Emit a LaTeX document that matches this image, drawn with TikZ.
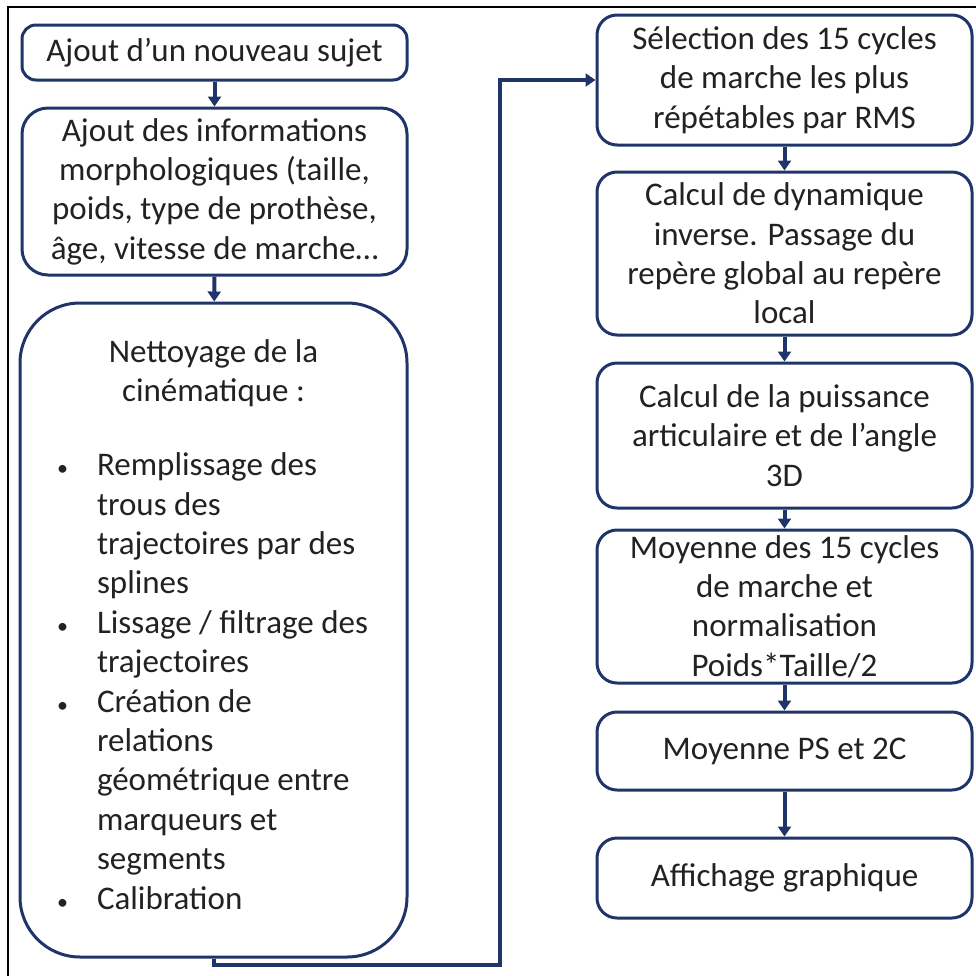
\documentclass[tikz,border=0pt]{standalone}
\usepackage{fontspec}
\setmainfont{Carlito}
\usepackage{xcolor}
\usepackage{tikz}
\usetikzlibrary{positioning,calc,arrows.meta}

\definecolor{navy}{RGB}{31,52,104}
\definecolor{txt}{RGB}{34,34,34}

\newcommand{\puce}{{\fontsize{11}{19.7}\selectfont •}}

\begin{document}
\begin{tikzpicture}[x=0.5pt, y=-0.5pt,
	every node/.style={font=\fontsize{16.5}{19.7}\selectfont, text=txt},
	stepbox/.style={draw=navy, line width=1.5pt, rounded corners=10pt, fill=white,
		align=center, inner sep=0pt, minimum width=187.5pt},
	leftbox/.style={stepbox, minimum width=192.5pt},
	arr/.style={draw=navy, line width=2pt, -{Triangle[width=6.5pt,length=5pt]}},
	frame/.style={draw=black, line width=1pt}
	]

	\useasboundingbox (0,0) rectangle (976,976);
	\draw[frame] (8,976) -- (8,7) -- (976,7);

	% colonne de gauche
	\node[leftbox, rounded corners=7pt, minimum height=27.5pt] (sujet) at (214.5,52.5)
		{Ajout d’un nouveau sujet};
	\node[leftbox, rounded corners=13pt, minimum height=83.5pt] (morpho) at (214.5,191.5)
		{Ajout des informations\\morphologiques (taille,\\poids, type de prothèse,\\âge, vitesse de marche…};
	\node[leftbox, rounded corners=30pt, minimum width=193.5pt, minimum height=327pt] (nett) at (213.5,630)
		{Nettoyage de la\\cinématique :\\[19.7pt]
		\hspace*{-1pt}\begin{tabular}{@{}p{20pt}@{}l@{}}
			\puce & Remplissage des\\
			  & trous des\\
			  & trajectoires par des\\
			  & splines\\
			\puce & Lissage / filtrage des\\
			  & trajectoires\\
			\puce & Création de\\
			  & relations\\
			  & géométrique entre\\
			  & marqueurs et\\
			  & segments\\
			\puce & Calibration
		\end{tabular}};

	% colonne de droite
	\node[stepbox, minimum height=65pt] (select) at (784.5,80)
		{Sélection des 15 cycles\\de marche les plus\\répétables par RMS};
	\node[stepbox, minimum height=81.5pt] (dyn) at (784.5,253.5)
		{Calcul de dynamique\\inverse. Passage du\\repère global au repère\\local};
	\node[stepbox, minimum height=72.5pt] (puiss) at (784.5,435.5)
		{Calcul de la puissance\\articulaire et de l’angle\\3D};
	\node[stepbox, minimum height=76.5pt] (moy) at (784.5,606.5)
		{Moyenne des 15 cycles\\de marche et\\normalisation\\Poids*Taille/2};
	\node[stepbox, minimum height=39pt] (ps) at (784.5,751)
		{Moyenne PS et 2C};
	\node[stepbox, minimum height=40pt] (graph) at (784.5,878)
		{Affichage graphique};

	\coordinate (bas) at (500,965);

	\draw[arr] (sujet) -- (morpho);
	\draw[arr] (morpho) -- (nett);
	\draw[arr] (nett.south) |- (bas) |- (select.west);
	\draw[arr] (select) -- (dyn);
	\draw[arr] (dyn) -- (puiss);
	\draw[arr] (puiss) -- (moy);
	\draw[arr] (moy) -- (ps);
	\draw[arr] (ps) -- (graph);

\end{tikzpicture}
\end{document}
